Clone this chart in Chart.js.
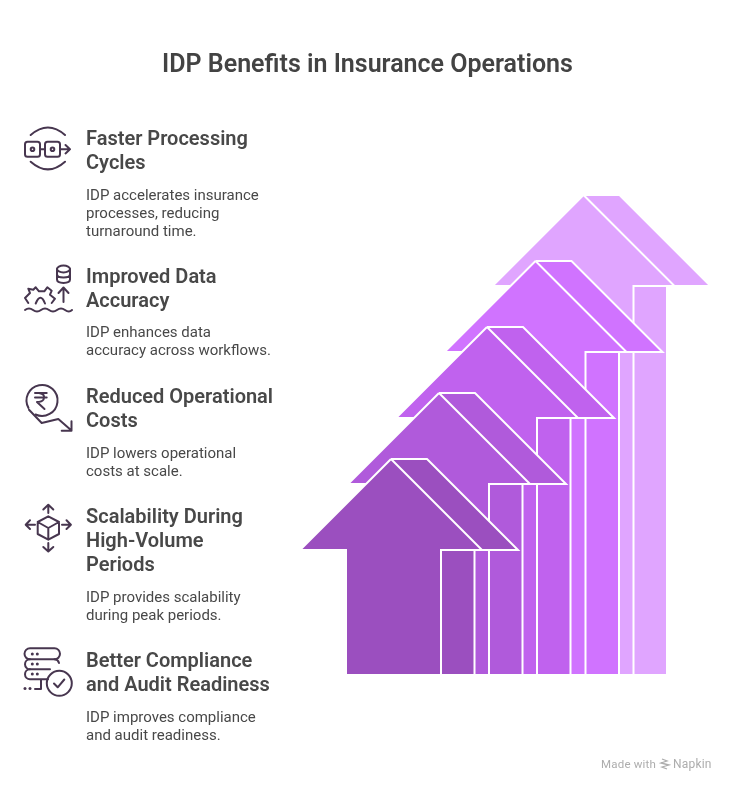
<!DOCTYPE html>
<html>
<head>
<meta charset="utf-8">
<script src="https://cdn.jsdelivr.net/npm/chart.js"></script>
<style>
  html, body { margin: 0; background: #fff; }
  #page { position: relative; width: 735px; height: 792px; overflow: hidden; font-family: Roboto, sans-serif; }
  canvas { position: absolute; left: 0; top: 0; }
  h1 { position: absolute; left: 0; width: 735px; top: 48px; margin: 0; text-align: center; font-size: 25px; line-height: 32px; font-weight: 600; color: #434343; }
  .head, .text { position: absolute; left: 86px; margin: 0; white-space: nowrap; }
  .head { font-size: 20px; line-height: 24px; font-weight: 600; color: #484848; }
  .text { font-size: 15px; line-height: 18px; color: #484848; }
  .icon { position: absolute; left: 15px; width: 70px; height: 70px; fill: none; stroke: #47364f; stroke-width: 2; stroke-linecap: round; stroke-linejoin: round; }
  .icon .dot { fill: #47364f; stroke: none; }
  #credit { position: absolute; left: 601px; top: 757px; font-size: 11.5px; line-height: 14px; color: #adadad; white-space: nowrap; letter-spacing: 0.2px; }
  #credit svg { position: absolute; left: 58px; top: 1px; width: 12px; height: 12px; fill: none; stroke: #adadad; stroke-width: 1.3; }
  #credit span { position: absolute; left: 72px; font-size: 12px; }
</style>
</head>
<body>
<div id="page">
  <canvas id="arrows" width="735" height="792"></canvas>
  <h1 id="title"></h1>
  <div id="list"></div>

  <svg class="icon" style="top:120px" viewBox="0 0 70 70">
    <path d="M15.7 15Q33 0 50 15M15.7 41.7Q33 57 50 41.7"/>
    <rect x="10" y="21.7" width="15" height="15" rx="2.5"/><rect x="30" y="21.7" width="15" height="15" rx="2.5"/>
    <path d="M25 29.2H30M45 29.2H55M50.5 25L55 29.2L50.5 33.4"/>
    <circle cx="17.5" cy="29.2" r="1.8"/><circle cx="37.5" cy="29.2" r="1.8"/>
  </svg>
  <svg class="icon" style="top:258px" viewBox="0 0 70 70">
    <ellipse cx="48.5" cy="11" rx="6.5" ry="3.5"/>
    <path d="M42 11V21.5C42 26 55 26 55 21.5V11M42 16.2C42 20.5 55 20.5 55 16.2"/>
    <path d="M48.5 44V30M43.5 35L48.5 29.5L53.5 35"/>
    <path d="M13.3 45L10 40L15 35L13.3 30.7L18.3 31.7L20.7 29.3L24 33.3L29.3 33.3L32.3 29.3L36.7 32.7L35 36.7L40 40.7L36.7 45"/>
    <path d="M20.7 45.5Q25.5 34 30 45.5"/>
    <path d="M10 52Q14 49 18 52T26 52T34 52T42 52T50 52T57 52"/>
  </svg>
  <svg class="icon" style="top:378px" viewBox="0 0 70 70">
    <path d="M13.5 30A15.5 15.5 0 1 1 20.5 36.5"/>
    <path d="M20 15H31.7M20 19.5H31.7M24 15Q31 16 28.5 21.5Q27 24 22 24L29.5 31"/>
    <path d="M14 31.7L26.7 45L43.3 41L56.5 52.5M56.5 43.3V52.7H46.7"/>
  </svg>
  <svg class="icon" style="top:498px" viewBox="0 0 70 70">
    <path d="M22.7 24L33.3 18.3L44 24V36L33.3 41.7L22.7 36ZM22.7 24L33.3 30L44 24M33.3 30V41.7"/>
    <path d="M33.3 15V7M28.3 11.5L33.3 6.7L38.3 11.5M33.3 45V53.3M28.3 49L33.3 53.5L38.3 49"/>
    <path d="M20 26.7H11M15 22.3L10.7 26.7L15 31M47 26.7H55.7M51.5 22.3L55.9 26.7L51.5 31"/>
  </svg>
  <svg class="icon" style="top:640px" viewBox="0 0 70 70">
    <path d="M15 8.3H39.5A5.5 5.5 0 0 1 39.5 19.3H15A5.5 5.5 0 0 1 15 8.3Z"/>
    <path d="M15 19.3A5 5 0 0 0 15 29.3H35M39.5 19.3A5 5 0 0 1 44 23"/>
    <path d="M15 29.3A5 5 0 0 0 15 39.3H33M26 39.3V49H20"/>
    <circle cx="44.3" cy="43.3" r="12.5"/>
    <path d="M39 43.5L42.7 47.3L49.3 39.5"/>
    <circle class="dot" cx="17.3" cy="14" r="1.5"/><circle class="dot" cx="22.3" cy="14" r="1.5"/>
    <circle class="dot" cx="17.3" cy="24" r="1.5"/><circle class="dot" cx="22.3" cy="24" r="1.5"/>
    <circle class="dot" cx="17.3" cy="34" r="1.5"/><circle class="dot" cx="22.3" cy="34" r="1.5"/>
    <circle class="dot" cx="10" cy="48.5" r="1.5"/><circle class="dot" cx="15" cy="48.5" r="1.5"/>
  </svg>

  <div id="credit">Made with
    <svg viewBox="0 0 12 12"><path d="M3 1L8 3L2 5L10 7L3 9L8 11"/></svg>
    <span>Napkin</span>
  </div>
</div>

<script>
const CHART_TITLE = "IDP Benefits in Insurance Operations";
const benefits = [
  "Faster Processing<br>Cycles",
  "Improved Data<br>Accuracy",
  "Reduced Operational<br>Costs",
  "Scalability During<br>High-Volume<br>Periods",
  "Better Compliance<br>and Audit Readiness",
];
const descriptions = [
  "IDP accelerates insurance<br>processes, reducing<br>turnaround time.",
  "IDP enhances data<br>accuracy across workflows.",
  "IDP lowers operational<br>costs at scale.",
  "IDP provides scalability<br>during peak periods.",
  "IDP improves compliance<br>and audit readiness.",
];
const headTops = [126, 264, 384, 504, 648];
const textTops = [186, 323, 444, 588, 708];

// arrows, front to back: tip position and height over the baseline
const arrowTipX = [391, 439, 487, 535.5, 583.5];
const arrowHeight = [215, 281, 347, 413, 479];
const arrowColors = ["#9b4fbf", "#b05adb", "#c062ee", "#d073ff", "#e0a5ff"];

const HEAD_DROP = 91;

function outline(tip, top) {
  const wing = top - HEAD_DROP;
  return [
    { x: tip, y: top },
    { x: tip - 91, y: wing },
    { x: tip - 45, y: wing },
    { x: tip - 45, y: -1 },
    { x: tip + 83.5, y: -1 },
    { x: tip + 83.5, y: wing },
    { x: tip + 127, y: wing },
    { x: tip + 36, y: top },
    { x: tip, y: top },
  ];
}

function creases(tip, top) {
  const wing = top - HEAD_DROP;
  return [
    { x: tip, y: top },
    { x: tip + 91, y: wing },
    { x: tip + 50, y: wing },
    { x: tip + 50, y: 0 },
  ];
}

function buildDatasets() {
  const sets = [];
  arrowTipX.forEach((tip, i) => {
    // first dataset is painted last, so creases go before their arrow
    sets.push({
      data: creases(tip, arrowHeight[i]),
      showLine: true,
      fill: false,
      borderColor: "#ffffff",
      borderWidth: 2,
      pointRadius: 0,
    });
    sets.push({
      data: outline(tip, arrowHeight[i]),
      showLine: true,
      fill: "shape",
      backgroundColor: arrowColors[i],
      borderColor: "#ffffff",
      borderWidth: 2,
      pointRadius: 0,
    });
  });
  return sets;
}

document.getElementById("title").textContent = CHART_TITLE;
document.getElementById("list").innerHTML = benefits.map((b, i) => `
  <div class="head" style="top:${headTops[i]}px">${b}</div>
  <div class="text" style="top:${textTops[i]}px">${descriptions[i]}</div>
`).join("");

new Chart(document.getElementById("arrows"), {
  type: "scatter",
  data: { datasets: buildDatasets() },
  options: {
    responsive: false,
    animation: false,
    layout: { padding: 0 },
    plugins: { legend: { display: false }, tooltip: { enabled: false } },
    scales: {
      x: { type: "linear", min: 0, max: 735, display: false },
      y: { type: "linear", min: -118, max: 674, display: false },
    },
  },
});
</script>
</body>
</html>
